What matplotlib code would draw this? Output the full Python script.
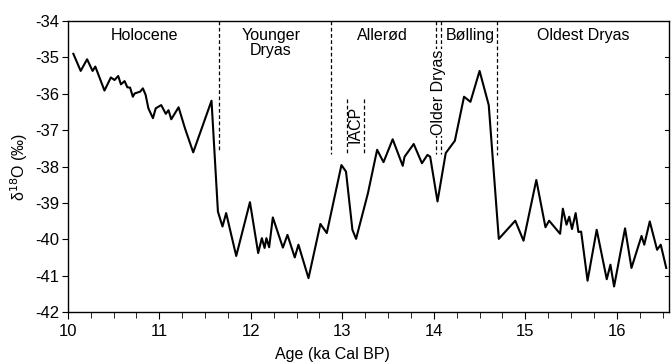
import numpy as np
import matplotlib
matplotlib.use("Agg")
import matplotlib.pyplot as plt
from matplotlib.ticker import MultipleLocator

# data
age = [10.06, 10.14, 10.21, 10.27, 10.30, 10.40, 10.47, 10.51, 10.55, 10.58,
       10.62, 10.65, 10.68, 10.71, 10.73, 10.79, 10.82, 10.85, 10.88, 10.93,
       10.96, 11.02, 11.07, 11.10, 11.13, 11.21, 11.28, 11.37, 11.57, 11.64,
       11.69, 11.73, 11.84, 11.99, 12.08, 12.12, 12.15, 12.17, 12.20, 12.24,
       12.35, 12.40, 12.48, 12.52, 12.63, 12.76, 12.83, 12.99, 13.04, 13.11,
       13.15, 13.28, 13.38, 13.45, 13.55, 13.66, 13.68, 13.78, 13.87, 13.93,
       13.96, 14.04, 14.13, 14.23, 14.33, 14.40, 14.50, 14.60, 14.71, 14.89,
       14.98, 15.12, 15.22, 15.26, 15.38, 15.41, 15.45, 15.48, 15.51, 15.55,
       15.58, 15.61, 15.68, 15.78, 15.89, 15.93, 15.97, 16.09, 16.16, 16.27,
       16.30, 16.36, 16.44, 16.48, 16.54]
d18o = [-34.90, -35.37, -35.05, -35.37, -35.25, -35.91, -35.55, -35.62, -35.51, -35.74,
        -35.65, -35.82, -35.83, -36.08, -35.99, -35.94, -35.85, -36.03, -36.40, -36.67,
        -36.40, -36.31, -36.55, -36.45, -36.70, -36.37, -36.95, -37.61, -36.19, -39.24,
        -39.65, -39.28, -40.46, -38.98, -40.38, -39.97, -40.24, -39.97, -40.22, -39.40,
        -40.23, -39.88, -40.50, -40.15, -41.07, -39.58, -39.83, -37.96, -38.14, -39.74,
        -39.99, -38.73, -37.54, -37.88, -37.25, -37.98, -37.73, -37.38, -37.91, -37.68,
        -37.73, -38.96, -37.63, -37.29, -36.08, -36.22, -35.37, -36.31, -39.99, -39.49,
        -40.04, -38.37, -39.67, -39.49, -39.85, -39.16, -39.60, -39.38, -39.72, -39.28,
        -39.80, -39.79, -41.14, -39.74, -41.10, -40.70, -41.30, -39.70, -40.79, -39.91,
        -40.15, -39.51, -40.29, -40.15, -40.79]

# period boundaries (dashed lines), x and lower end
bound_x = [11.65, 12.88, 14.02, 14.08, 14.69]
bound_lo = [-37.6, -37.65, -37.65, -37.65, -37.68]
iacp_x = [13.05, 13.24]
iacp_span = (-36.15, -37.65)

periods = ["Holocene", "Younger\nDryas", "Allerød", "Bølling", "Oldest Dryas"]
period_x = [10.84, 12.22, 13.44, 14.40, 15.63]

plt.rcParams['font.family'] = ['Liberation Sans', 'DejaVu Sans']
plt.rcParams['axes.unicode_minus'] = False

fig = plt.figure(figsize=(6.72, 3.64), dpi=100)
ax = fig.add_axes([0.101, 0.143, 0.8945, 0.799])

ax.plot(age, d18o, color='black', lw=1.5)

for x, lo in zip(bound_x, bound_lo):
    ax.plot([x, x], [-34, lo], color='black', lw=0.9, ls=(0, (3, 2)))
for x in iacp_x:
    ax.plot([x, x], list(iacp_span), color='black', lw=0.9, ls=(0, (3, 2)))

for name, x in zip(periods, period_x):
    ax.text(x, -34.2, name, ha='center', va='top', fontsize=11.5, linespacing=0.95)
ax.text(13.14, -36.85, "IACP", rotation=90, ha='center', va='center', fontsize=11.5)
ax.text(14.05, -35.97, "Older Dryas", rotation=90, ha='center', va='center',
        fontsize=11.5, bbox=dict(facecolor='white', edgecolor='none', pad=0.5), zorder=5)

ax.set_xlim(10, 16.57)
ax.set_ylim(-42, -34)
ax.xaxis.set_major_locator(MultipleLocator(1))
ax.xaxis.set_minor_locator(MultipleLocator(0.25))
ax.yaxis.set_major_locator(MultipleLocator(1))
ax.tick_params(axis='x', which='both', direction='out', top=False, labelsize=12, pad=4)
ax.tick_params(axis='x', which='major', length=5)
ax.tick_params(axis='x', which='minor', length=4)
ax.tick_params(axis='y', direction='out', length=4, labelsize=12, right=False, pad=2)
ax.tick_params(axis='y', which='minor', left=False)

# inward ticks on the right border
for y in np.arange(-41, -34):
    ax.plot([16.57 - 0.04, 16.57], [y, y], color='black', lw=0.8, clip_on=False)

for s in ax.spines.values():
    s.set_linewidth(1.0)

ax.set_ylabel('δ$^{18}$O (‰)', fontsize=11.5, labelpad=4)
ax.set_xlabel('Age (ka Cal BP)', fontsize=11.5)
ax.xaxis.set_label_coords(0.44, -0.12)

fig.savefig('out.png', dpi=100)
